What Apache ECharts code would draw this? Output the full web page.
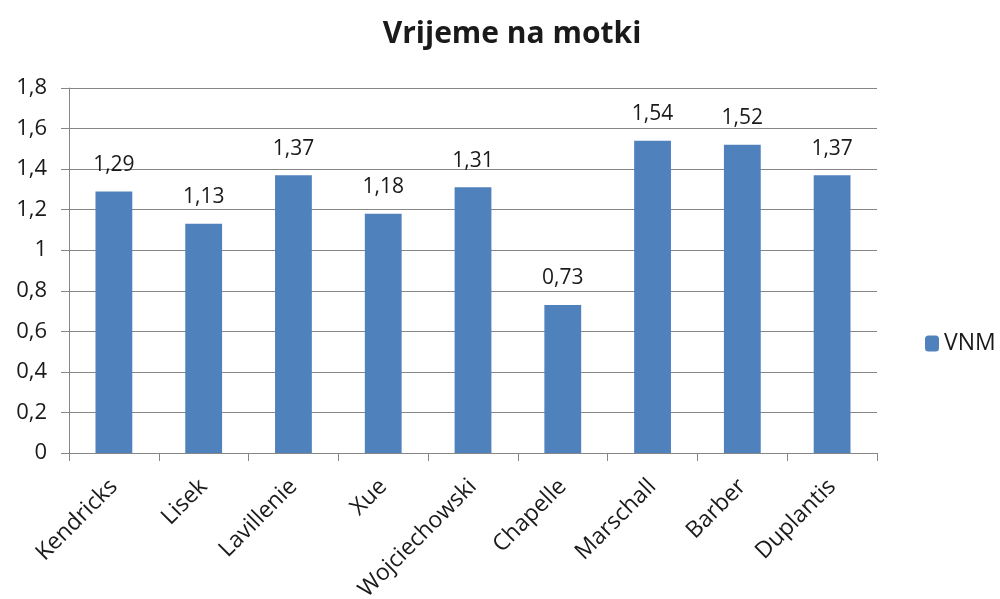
<!DOCTYPE html>
<html><head><meta charset="utf-8">
<script src="https://cdn.jsdelivr.net/npm/echarts@6/dist/echarts.min.js"></script>
<style>html,body{margin:0;padding:0;background:#fff}#c{width:1000px;height:599px}</style>
</head><body><div id="c"></div>
<script>
var categories = ['Kendricks','Lisek','Lavillenie','Xue','Wojciechowski','Chapelle','Marschall','Barber','Duplantis'];
var vnmValues = [1.29,1.13,1.37,1.18,1.31,0.73,1.54,1.52,1.37];
var seriesName = 'VNM';
var chartTitle = 'Vrijeme na motki';

var fnt = 'Open Sans';
var txt = '#1a1a1a';
var chart = echarts.init(document.getElementById('c'), null, {renderer:'canvas'});
function fmt(v){ return (Math.round(v*100)/100).toString().replace('.', ','); }
chart.setOption({
  animation:false,
  backgroundColor:'#fff',
  title:{text:chartTitle,left:507,textAlign:'center',top:14,
    textStyle:{fontFamily:fnt,fontSize:30,fontWeight:'bold',color:txt}},
  legend:{data:[seriesName],left:920,top:327,orient:'vertical',itemWidth:14,itemHeight:16,itemGap:8,
    textStyle:{fontFamily:fnt,fontSize:23,color:txt}},
  grid:{left:69,right:123,top:88,bottom:146,containLabel:false,outerBoundsMode:'none'},
  xAxis:{type:'category',data:categories,
    axisLine:{lineStyle:{color:'#868686',width:1}},
    axisTick:{show:true,alignWithLabel:false,length:8,lineStyle:{color:'#868686'}},
    axisLabel:{rotate:45,interval:0,margin:30,fontFamily:fnt,fontSize:23,color:txt}},
  yAxis:{type:'value',min:0,max:1.8,interval:0.2,
    axisLine:{show:true,lineStyle:{color:'#868686'}},
    axisTick:{show:true,length:8,lineStyle:{color:'#868686'}},
    splitLine:{lineStyle:{color:'#868686',width:1}},
    axisLabel:{margin:22,fontFamily:fnt,fontSize:22,color:txt,formatter:function(v){return fmt(v);}}},
  series:[{name:seriesName,type:'bar',data:vnmValues,barWidth:'41%',
    itemStyle:{color:'#4F81BD'},
    label:{show:true,position:'top',distance:16,fontFamily:fnt,fontSize:21,color:txt,
      formatter:function(p){return p.value.toFixed(2).replace('.', ',');}}}]
});
</script></body></html>
